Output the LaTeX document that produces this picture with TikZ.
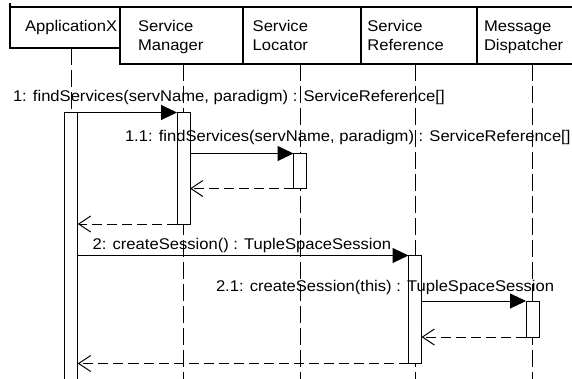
\documentclass[tikz,border=0pt]{standalone}
\usepackage{fontspec}
\setmainfont{Liberation Sans}[FakeStretch=1.07]
\usetikzlibrary{arrows.meta}
\pgfdeclarelayer{bg}
\pgfsetlayers{bg,main}
\begin{document}
\begin{tikzpicture}[x=1bp,y=-1bp,
  font=\fontsize{15.5bp}{19bp}\selectfont,
  hdr/.style={draw, line width=2bp, rectangle, inner sep=0pt, outer sep=0pt, anchor=north west},
  lbl/.style={anchor=base west, inner sep=0pt, outer sep=0pt},
  life/.style={line width=1bp, dash pattern=on 17bp off 5bp},
  bar/.style={draw, fill=white, line width=1bp, inner sep=0pt, outer sep=0pt,
              minimum width=13bp, anchor=north},
  call/.style={line width=1bp, -{Triangle[length=16bp,width=15bp]}},
  ret/.style={line width=1bp, dash pattern=on 10bp off 5bp,
              -{Straight Barb[length=12bp,width=16bp]}}]
\useasboundingbox (0,0) rectangle (572,378);
\coordinate (bot) at (0,380);

% lifeline heads
\node[hdr, minimum width=110bp, minimum height=41bp] (appx)  at (10,7)  {};
\node[hdr, minimum width=123bp, minimum height=57bp] (smgr)  at (120,7) {};
\node[hdr, minimum width=118bp, minimum height=57bp] (sloc)  at (243,7) {};
\node[hdr, minimum width=116bp, minimum height=57bp] (sref)  at (361,7) {};
\node[hdr, minimum width=120bp, minimum height=57bp] (mdisp) at (477,7) {};
\draw[line width=2bp] (appx.north west) -- ++(0,-4);

% head titles (base anchor sits on the last line)
\node[lbl] (tappx) at (25,31) {ApplicationX};
\node[lbl, align=left] (tsmgr)  at (138,50) {Service\\Manager};
\node[lbl, align=left] (tsloc)  at (252.7,50) {Service\\Locator};
\node[lbl, align=left] (tsref)  at (367.3,50) {Service\\Reference};
\node[lbl, align=left] (tmdisp) at (484,50) {Message\\Dispatcher};

% activation bars
\node[bar, minimum height=280bp]   (actA) at (71.3,112.5) {};
\node[bar, minimum height=111.5bp] (actM) at (183.5,112.5) {};
\node[bar, minimum height=35bp]    (actL) at (300,153.5) {};
\node[bar, minimum height=108bp]   (actR) at (415,255.5) {};
\node[bar, minimum height=36bp]    (actD) at (532.5,301) {};

% lifelines, behind the bars
\begin{pgfonlayer}{bg}
  \draw[life] (actA.north |- appx.south)  -- (actA.north |- bot);
  \draw[life] (actM.north |- smgr.south)  -- (actM.north |- bot);
  \draw[life] (actL.north |- sloc.south)  -- (actL.north |- bot);
  \draw[life] (actR.north |- sref.south)  -- (actR.north |- bot);
  \draw[life] (actD.north |- mdisp.south) -- (actD.north |- bot);
\end{pgfonlayer}

% message labels
\node[lbl] (m1)  at (13,101.7)  {1: findServices(servName, paradigm) : ServiceReference[]};
\node[lbl] (m11) at (125,141.7) {1.1: findServices(servName, paradigm) : ServiceReference[]};
\node[lbl] (m2)  at (92.7,249)  {2: createSession() : TupleSpaceSession};
\node[lbl] (m21) at (216,291)   {2.1: createSession(this) : TupleSpaceSession};

% messages and returns
\draw[call] (actA.north east) -- (actM.north west);
\draw[call] (actM.east |- actL.north) -- (actL.north west);
\draw[ret]  (actL.south west) -- (actM.east |- actL.south);
\draw[ret]  (actM.south west) -- (actA.east |- actM.south);
\draw[call] (actA.east |- actR.north) -- (actR.north west);
\draw[call] (actR.east |- actD.north) -- (actD.north west);
\draw[ret]  (actD.south west) -- (actR.east |- actD.south);
\draw[ret]  (actR.south west) -- (actA.east |- actR.south);
\end{tikzpicture}
\end{document}
